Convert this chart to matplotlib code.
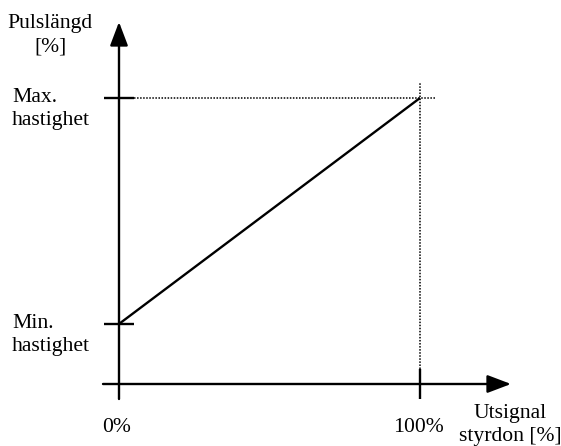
import matplotlib
matplotlib.use("Agg")
import matplotlib.pyplot as plt

# Data (schematic): control signal in %, pulse length levels
x_pct = [0, 100]            # Utsignal styrdon [%]
y_level = [21, 100]         # Min. / Max. hastighet (relative units)
x_ticks = ["0%", "100%"]
y_ticks = ["Min.\nhastighet", "Max.\nhastighet"]

W, H = 561, 446
fig = plt.figure(figsize=(W / 100, H / 100), dpi=100)
ax = fig.add_axes([0, 0, 1, 1])
ax.set_axis_off()

# pixel layout
ox, oy = 119, 384           # origin in pixels
sx = (420 - 119) / 100.0    # px per % on x
sy = (384 - 98) / 100.0     # px per unit on y
ax.set_xlim((0 - ox) / sx, (W - ox) / sx)
ax.set_ylim((oy - H) / sy, (oy - 0) / sy)

def px(xp, yp):
    return (xp - ox) / sx, (oy - yp) / sy

plt.rcParams['font.family'] = ['Liberation Serif', 'DejaVu Serif']
fs = 15.6
lw = 1.7
ls_ = 1.3

# axes with arrows
arrow = dict(arrowstyle="-|>,head_length=1.45,head_width=0.55", mutation_scale=10,
             lw=lw, color='k', shrinkA=0, shrinkB=0)
x0, _ = px(103, 0)
xt, _ = px(511, 0)
ax.annotate("", xy=(xt, 0), xytext=(x0, 0), arrowprops=arrow)
_, y0 = px(0, 399)
_, yt = px(0, 22)
ax.annotate("", xy=(0, yt), xytext=(0, y0), arrowprops=arrow)

# ticks
tick_half_x = 15 / sx
tick_half_y = 15 / sy
for yv in y_level:
    ax.plot([-tick_half_x, tick_half_x], [yv, yv], color='k', lw=lw, solid_capstyle='butt')
ax.plot([x_pct[1], x_pct[1]], [-tick_half_y, tick_half_y], color='k', lw=lw, solid_capstyle='butt')

# dotted guides
xe, _ = px(435, 0)
ax.plot([tick_half_x, xe], [y_level[1], y_level[1]], color='k', lw=1.1, ls=(0, (1, 1)))
_, ye = px(0, 83)
ax.plot([x_pct[1], x_pct[1]], [tick_half_y, ye], color='k', lw=1.1, ls=(0, (1, 1)))

# characteristic line
ax.plot(x_pct, y_level, color='k', lw=lw, solid_capstyle='butt')

# labels
tx, ty = px(50, 35)
ax.text(tx, ty, "Pulslängd\n[%]", ha='center', va='center', fontsize=fs, linespacing=ls_)
lx, _ = px(12, 0)
ax.text(lx, y_level[1] - 11 / sy, y_ticks[1], ha='left', va='center', fontsize=fs, linespacing=ls_)
ax.text(lx, y_level[0] - 11 / sy, y_ticks[0], ha='left', va='center', fontsize=fs, linespacing=ls_)
_, ly = px(0, 428)
ax.text(x_pct[0] - 2 / sx, ly, x_ticks[0], ha='center', va='center', fontsize=fs)
ax.text(x_pct[1] - 2 / sx, ly, x_ticks[1], ha='center', va='center', fontsize=fs)
ux, uy = px(510, 425)
ax.text(ux, uy, "Utsignal\nstyrdon [%]", ha='center', va='center', fontsize=fs, linespacing=ls_)

fig.savefig("out.png", dpi=100)
